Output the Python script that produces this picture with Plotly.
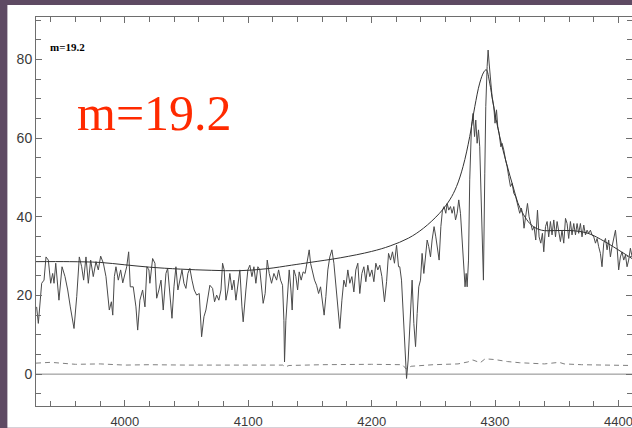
import plotly.graph_objects as go

# Observed spectrum: wavelength (Angstrom) and flux
wave_obs = [
    3928.5, 3929.9, 3932.6, 3934.5, 3936.1, 3938.0, 3939.9, 3941.5, 3942.6, 3944.0,
    3946.6, 3949.1, 3951.5, 3953.7, 3955.8, 3958.8, 3961.0, 3963.1, 3965.0, 3966.6,
    3968.5, 3970.4, 3972.3, 3974.4, 3976.6, 3978.5, 3980.4, 3982.6, 3984.7, 3987.4,
    3989.1, 3990.2, 3991.5, 3992.8, 3994.7, 3996.6, 3998.3, 4000.1, 4001.5, 4003.1,
    4004.4, 4006.8, 4009.0, 4010.4, 4012.2, 4014.4, 4016.3, 4017.9, 4019.5,
    4020.3, 4022.5, 4024.4, 4025.8, 4027.6, 4029.3, 4031.1, 4033.3, 4034.7, 4036.0,
    4038.2, 4039.8, 4041.4, 4043.0, 4044.6, 4046.3, 4047.9, 4049.5, 4051.1, 4052.7,
    4054.4, 4056.2, 4058.2, 4060.3, 4062.2, 4064.1, 4065.7, 4067.3, 4068.9, 4071.1,
    4072.7, 4074.4, 4076.2, 4077.9, 4079.2, 4080.5, 4081.9, 4083.5, 4085.1, 4086.8,
    4088.4, 4090.0, 4091.6, 4093.2, 4094.9, 4095.9, 4098.1, 4099.7, 4101.3, 4103.0,
    4104.6, 4106.2, 4107.8, 4109.4, 4112.1, 4113.7, 4115.4, 4117.0, 4118.9, 4120.8,
    4123.0, 4124.6,
    4126.2, 4127.8, 4128.9, 4129.4, 4130.5, 4131.9, 4133.2, 4134.6, 4135.6, 4137.0,
    4138.6, 4140.0, 4141.3, 4142.9, 4144.5, 4146.1, 4147.8, 4149.4, 4150.5, 4152.1,
    4153.7, 4155.4, 4157.0, 4158.6, 4160.2, 4161.5, 4162.9, 4164.5, 4166.1, 4167.8,
    4169.4, 4171.0, 4172.6, 4174.2, 4175.9, 4177.5, 4179.1, 4180.7, 4182.3, 4184.0,
    4185.6, 4187.2, 4188.8, 4190.4, 4192.1, 4193.7, 4195.3, 4196.9, 4198.5, 4200.2,
    4201.8, 4203.4, 4205.0, 4206.6, 4208.3, 4210.4, 4212.1, 4213.7, 4215.3, 4216.9,
    4218.5, 4220.2, 4221.8,
    4222.8, 4224.2, 4226.1, 4228.3, 4229.6, 4231.5, 4232.8, 4234.2, 4235.6, 4236.9,
    4238.2, 4239.6, 4240.9, 4242.3, 4243.7, 4245.0, 4246.3, 4247.7, 4249.0, 4250.6,
    4252.0, 4253.4, 4254.7, 4256.1, 4257.4, 4258.7, 4260.1, 4261.2, 4262.5, 4263.9,
    4265.2, 4266.6, 4268.0, 4269.3, 4270.6, 4272.0, 4273.3, 4274.7, 4275.7, 4276.6,
    4277.4, 4278.5, 4279.5, 4280.9, 4282.2, 4283.4, 4284.4, 4285.5, 4286.6, 4287.6,
    4288.7, 4289.8, 4290.6, 4291.7, 4292.5, 4293.6, 4294.4, 4295.2, 4296.3, 4297.6,
    4299.0, 4300.0, 4301.2, 4302.2, 4303.3, 4304.7, 4305.7, 4307.1, 4308.5, 4309.8,
    4311.1, 4312.5, 4313.9, 4315.2, 4316.8, 4318.7,
    4320.0, 4321.4, 4322.7, 4323.5, 4324.9, 4326.3, 4327.6, 4329.0, 4330.3, 4331.6,
    4333.0, 4334.4, 4335.7, 4337.1, 4338.4, 4339.5, 4340.9, 4342.2, 4343.5, 4344.9,
    4346.2, 4347.6, 4349.0, 4350.3, 4351.6, 4353.0, 4354.3, 4355.7, 4357.1, 4358.4,
    4359.7, 4361.1, 4362.4, 4363.8, 4365.2, 4366.5, 4367.8, 4369.2, 4370.5, 4371.9,
    4373.3, 4374.6, 4375.9, 4377.3, 4378.6, 4380.0, 4381.4, 4382.7, 4384.0, 4385.4,
    4386.7, 4388.1, 4389.5, 4390.8, 4392.1, 4393.5, 4394.8, 4396.2, 4397.6, 4398.9,
    4400.2, 4401.6, 4402.9, 4404.3, 4405.7, 4407.0, 4408.3, 4409.7, 4411.0,
]
flux_obs = [
    17.1, 12.9, 23.1, 23.9, 29.8, 29.0, 23.1, 25.6, 23.1, 28.2,
    18.8, 27.3, 24.8, 21.4, 17.1, 11.6, 19.7, 29.8, 27.3, 23.9,
    29.8, 23.1, 29.0, 24.8, 28.6, 26.5, 30.0, 28.2, 24.8, 16.3,
    18.4, 15.0, 24.8, 27.3, 23.9, 26.5, 23.2, 25.2, 27.3, 31.1,
    22.2, 22.2, 17.1, 11.2, 18.8, 21.4, 17.1, 27.3, 26.5,
    23.1, 29.4, 28.2, 19.3, 21.4, 23.9, 16.3, 25.6, 26.9, 21.4,
    14.2, 22.2, 27.3, 21.4, 23.9, 26.5, 23.1, 21.8, 25.6, 26.9,
    23.9, 21.4, 20.1, 20.5, 9.5, 14.6, 16.3, 19.7, 22.6, 21.8,
    18.4, 20.1, 18.8, 21.4, 28.2, 26.5, 18.8, 21.4, 25.6, 21.4,
    23.9, 18.8, 23.1, 26.5, 17.1, 13.3, 21.4, 26.5, 27.7, 24.8,
    27.3, 23.1, 27.3, 26.5, 18.0, 20.5, 29.0, 25.6, 23.1, 25.6,
    23.9, 26.5,
    23.9, 22.6, 13.7, 3.1, 13.7, 20.5, 26.5, 21.4, 16.3, 26.5,
    24.8, 21.4, 26.0, 23.9, 26.0, 25.6, 29.0, 31.6, 28.2, 25.6,
    23.9, 22.6, 20.5, 22.2, 18.8, 15.0, 19.7, 26.5, 29.8, 31.6,
    28.2, 23.1, 16.3, 11.6, 18.8, 23.9, 22.2, 26.5, 23.1, 24.8,
    20.9, 26.5, 28.2, 20.5, 25.6, 27.3, 23.5, 27.7, 24.8, 26.5,
    23.5, 28.2, 26.5, 27.7, 24.8, 18.4, 23.5, 30.7, 29.0, 31.1,
    28.2, 32.8, 27.3,
    27.3, 23.9, 12.9, -1.1, 3.6, 15.4, 23.9, 12.9, 7.0, 15.4,
    22.2, 23.9, 30.7, 25.6, 30.7, 34.1, 32.4, 29.8, 34.1, 37.5,
    34.9, 32.4, 29.0, 37.5, 41.7, 42.6, 40.9, 43.4, 41.7, 42.6,
    40.9, 42.6, 39.2, 40.9, 44.3, 40.9, 34.1, 27.3, 22.2, 25.6,
    22.2, 29.0, 49.4, 62.9, 66.3, 60.4, 64.6, 58.7, 62.1, 57.8,
    42.6, 29.8, 23.9, 51.1, 68.0, 78.2, 82.4, 79.1, 74.0, 70.6,
    68.0, 63.8, 67.2, 62.9, 61.2, 57.8, 58.7, 57.0, 54.5, 52.8,
    50.2, 47.7, 48.5, 46.0, 45.1, 42.6,
    40.9, 42.2, 40.0, 37.1, 40.9, 43.4, 40.0, 38.3, 36.6, 37.5,
    34.1, 41.7, 34.9, 33.3, 35.8, 31.1, 37.5, 38.8, 34.9, 38.8,
    35.4, 39.2, 34.9, 38.8, 35.8, 33.7, 36.6, 33.3, 39.6, 38.3,
    34.5, 38.8, 35.4, 38.3, 35.4, 38.3, 35.8, 38.3, 34.9, 37.9,
    35.4, 36.6, 35.8, 36.6, 35.4, 34.9, 33.3, 34.5, 32.4, 30.7,
    27.3, 33.3, 34.5, 31.6, 34.1, 29.8, 32.4, 34.5, 36.6, 32.4,
    26.5, 29.8, 31.1, 29.0, 30.3, 27.3, 29.0, 32.0, 30.0,
]

# Model fit: continuum plus broad emission line
wave_fit = [
    3928.0, 3955.0, 3980.0, 4000.0, 4020.0, 4045.0, 4070.0, 4093.0, 4115.0, 4135.0,
    4150.0, 4175.0, 4200.0, 4215.0, 4230.0, 4242.0, 4255.0, 4263.3, 4268.8, 4274.1,
    4279.5, 4283.6, 4287.6, 4290.9, 4292.9, 4295.7, 4298.4, 4303.8, 4309.3, 4314.6,
    4320.0, 4329.5, 4337.6, 4348.4, 4361.9, 4375.4, 4388.9, 4402.4, 4411.0,
]
flux_fit = [
    28.6, 28.6, 28.4, 27.8, 27.2, 26.7, 26.4, 26.3, 26.8, 27.7,
    28.4, 29.6, 31.2, 32.6, 34.6, 37.1, 40.9, 44.3, 47.7, 52.8,
    60.4, 68.0, 74.0, 76.8, 77.4, 74.0, 68.9, 60.4, 53.6, 47.7,
    42.4, 37.9, 36.6, 36.5, 36.5, 35.8, 33.7, 31.1, 29.4,
]

# Flux error
wave_err = [
    3928, 3940, 3960, 3980, 4000, 4020, 4050, 4080, 4100, 4128, 4130, 4133,
    4160, 4200, 4225, 4228, 4232, 4250, 4270, 4278, 4282, 4288, 4292, 4300,
    4310, 4320, 4340, 4352, 4356, 4370, 4400, 4411,
]
flux_err = [
    2.8, 3.0, 2.5, 2.6, 2.3, 2.4, 2.3, 2.2, 2.3, 2.3, 1.8, 2.2,
    2.4, 2.5, 2.4, 1.3, 2.0, 2.4, 2.6, 3.1, 3.6, 2.9, 3.9, 3.7,
    3.2, 2.9, 2.6, 3.0, 2.6, 2.4, 2.2, 2.2,
]

x_range = [3928, 4411]
y_range = [-8.1, 90.8]
x_ticks = [4000, 4100, 4200, 4300, 4400]
y_ticks = [0, 20, 40, 60, 80]
label_small = "m=19.2"
label_big = "m=19.2"

fig = go.Figure()

# zero level
fig.add_trace(go.Scatter(x=x_range, y=[0, 0], mode="lines",
                         line=dict(color="#8a8a8a", width=1), hoverinfo="skip"))
# error spectrum
fig.add_trace(go.Scatter(x=wave_err, y=flux_err, mode="lines",
                         line=dict(color="#808080", width=1, dash="5px,4px")))
# observed spectrum
fig.add_trace(go.Scatter(x=wave_obs, y=flux_obs, mode="lines",
                         line=dict(color="#4a4a4a", width=1)))
# model
fig.add_trace(go.Scatter(x=wave_fit, y=flux_fit, mode="lines",
                         line=dict(color="#333333", width=1, shape="spline", smoothing=1.0)))

axis_common = dict(
    showline=True, linecolor="#6e6e6e", linewidth=1, mirror="allticks",
    ticks="inside", ticklen=6, tickcolor="#6e6e6e", tickwidth=1,
    showgrid=False, zeroline=False,
)
tick_font = dict(family="Liberation Sans, Arial, sans-serif", color="#3a3a3a")

fig.update_layout(
    width=632, height=428,
    margin=dict(l=36, r=0, t=17, b=22),
    paper_bgcolor="#5e4a63",
    plot_bgcolor="white",
    showlegend=False,
    xaxis=dict(range=x_range, tickvals=x_ticks, ticklabeloverflow="allow",
               ticklabelstandoff=3, tickfont=dict(size=13, **tick_font),
               minor=dict(dtick=20, tick0=4000, ticks="inside", ticklen=5,
                          tickcolor="#6e6e6e", showgrid=False),
               **axis_common),
    yaxis=dict(range=y_range, tickvals=y_ticks, tickfont=dict(size=14, **tick_font),
               minor=dict(dtick=5, tick0=0, ticks="inside", ticklen=5,
                          tickcolor="#6e6e6e", showgrid=False),
               **axis_common),
    shapes=[dict(type="rect", xref="paper", yref="paper",
                 x0=-0.048, x1=1.02, y0=-0.056, y1=1.031,
                 fillcolor="white", line=dict(width=0), layer="below")],
    annotations=[
        dict(x=3938.0, y=83.2, xref="x", yref="y", xanchor="left", yanchor="middle",
             text="<b>" + label_small + "</b>", showarrow=False,
             font=dict(family="Liberation Serif, Times New Roman, serif", size=11, color="black")),
        dict(x=3960.0, y=66.5, xref="x", yref="y", xanchor="left", yanchor="middle",
             text=label_big, showarrow=False,
             font=dict(family="Liberation Serif, Times New Roman, serif", size=50, color="#ff2a00")),
    ],
)

fig.write_html("out.html")
